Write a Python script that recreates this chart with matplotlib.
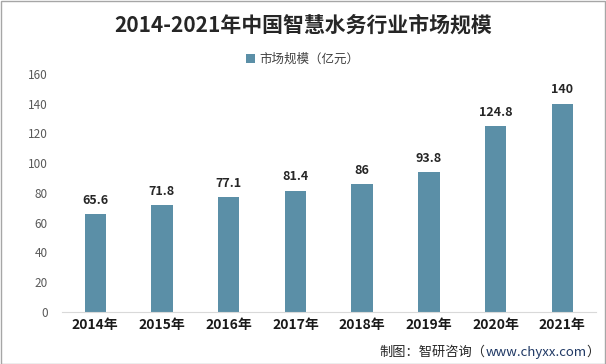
import matplotlib
matplotlib.use("Agg")
import matplotlib.pyplot as plt
from matplotlib.patches import Rectangle

plt.rcParams['font.family'] = ['Noto Sans CJK SC', 'DejaVu Sans']

years = ['2014年', '2015年', '2016年', '2017年', '2018年', '2019年', '2020年', '2021年']
values = [65.6, 71.8, 77.1, 81.4, 86, 93.8, 124.8, 140]
value_labels = ['65.6', '71.8', '77.1', '81.4', '86', '93.8', '124.8', '140']
yticks = [0, 20, 40, 60, 80, 100, 120, 140, 160]

bar_color = '#5B8FA7'

fig = plt.figure(figsize=(6.06, 3.64), dpi=100)
ax = fig.add_axes([0.102, 0.143, 0.881, 0.654])

x = range(len(years))
ax.bar(x, values, width=0.32, color=bar_color, label='市场规模（亿元）', zorder=2)

for i, (v, s) in enumerate(zip(values, value_labels)):
    ax.text(i, v + 5, s, ha='center', va='bottom', fontsize=9, fontweight='bold', color='#262626')

ax.set_xlim(-0.5, len(years) - 0.5)
ax.set_ylim(0, 160)
ax.set_yticks(yticks)
ax.set_yticklabels([str(t) for t in yticks], fontsize=8.5, color='#595959')
ax.set_xticks(list(x))
ax.set_xticklabels(years, fontsize=10, fontweight='bold', color='#1a1a1a')
ax.tick_params(axis='both', length=0)
ax.tick_params(axis='y', pad=10)
ax.tick_params(axis='x', pad=4)

for side in ['top', 'right', 'left']:
    ax.spines[side].set_visible(False)
ax.spines['bottom'].set_color('#D9D9D9')

fig.text(0.5, 0.93, '2014-2021年中国智慧水务行业市场规模', ha='center', va='center',
         fontsize=15, fontweight='bold', color='#262626')

leg = fig.legend(loc='center', bbox_to_anchor=(0.5, 0.836), frameon=False,
                 fontsize=9, handlelength=0.7, handleheight=0.7, handletextpad=0.4)
for t in leg.get_texts():
    t.set_color('#404040')

# source line, pieces placed right to left
renderer = fig.canvas.get_renderer()
parts = [('）', '#262626'), ('www.chyxx.com', '#1F3864'), ('制图：智研咨询（', '#262626')]
xr = 0.99
for s, c in parts:
    t = fig.text(xr, 0.032, s, ha='right', va='center', fontsize=9.5, color=c)
    bb = t.get_window_extent(renderer=renderer)
    xr -= bb.width / fig.bbox.width

fig.patches.append(Rectangle((0.001, 0.001), 0.997, 0.997, transform=fig.transFigure,
                             fill=False, edgecolor='#A6A6A6', linewidth=1))

fig.savefig('out.png', dpi=100)
